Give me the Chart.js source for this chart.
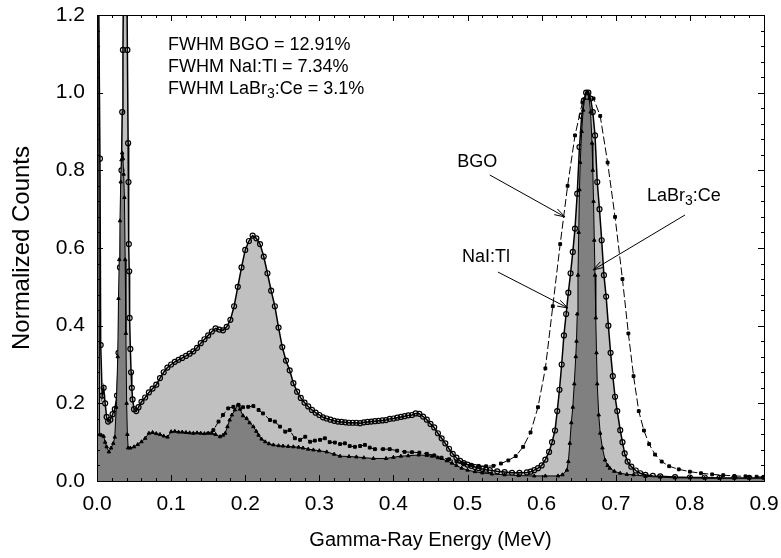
<!DOCTYPE html>
<html>
<head>
<meta charset="utf-8">
<script src="https://cdn.jsdelivr.net/npm/chart.js@4.4.1/dist/chart.umd.min.js"></script>
<style>
  body { margin: 0; background: #fff; }
  canvas { display: block; }
</style>
</head>
<body>
<canvas id="graph" width="781" height="558"></canvas>
<script>
// LaBr3:Ce spectrum (dark fill, triangles)
const labrEnergy = [0.000, 0.002, 0.0035, 0.006, 0.009, 0.011, 0.013, 0.016, 0.019, 0.022, 0.024, 0.026, 0.028, 0.029, 0.030, 0.031, 0.032, 0.033, 0.034, 0.035, 0.036, 0.037, 0.038, 0.039, 0.040, 0.041, 0.042, 0.045, 0.050, 0.055, 0.060, 0.065, 0.070, 0.075, 0.080, 0.085, 0.090, 0.095, 0.100, 0.105, 0.110, 0.115, 0.120, 0.125, 0.130, 0.135, 0.140, 0.145, 0.150, 0.155, 0.160, 0.166, 0.170, 0.173, 0.176, 0.179, 0.182, 0.186, 0.190, 0.193, 0.197, 0.202, 0.206, 0.211, 0.215, 0.218, 0.222, 0.227, 0.232, 0.238, 0.245, 0.251, 0.258, 0.265, 0.272, 0.278, 0.285, 0.292, 0.300, 0.310, 0.320, 0.328, 0.340, 0.350, 0.360, 0.373, 0.390, 0.400, 0.410, 0.420, 0.434, 0.445, 0.452, 0.460, 0.465, 0.472, 0.479, 0.485, 0.492, 0.500, 0.510, 0.520, 0.533, 0.550, 0.569, 0.590, 0.605, 0.622, 0.628, 0.634, 0.636, 0.638, 0.640, 0.642, 0.644, 0.646, 0.647, 0.648, 0.649, 0.650, 0.651, 0.652, 0.654, 0.656, 0.658, 0.660, 0.662, 0.664, 0.666, 0.668, 0.669, 0.670, 0.671, 0.672, 0.673, 0.674, 0.675, 0.677, 0.679, 0.682, 0.6855, 0.689, 0.692, 0.698, 0.706, 0.715, 0.724, 0.740, 0.760, 0.780, 0.800, 0.820, 0.840, 0.860, 0.880, 0.900];
const labrCounts = [1.40, 1.40, 0.120, 0.118, 0.115, 0.100, 0.088, 0.075, 0.085, 0.097, 0.113, 0.190, 0.320, 0.470, 0.570, 0.670, 0.770, 0.827, 0.845, 0.830, 0.790, 0.730, 0.570, 0.380, 0.200, 0.120, 0.085, 0.085, 0.088, 0.094, 0.101, 0.110, 0.123, 0.125, 0.122, 0.120, 0.116, 0.113, 0.127, 0.128, 0.126, 0.126, 0.125, 0.124, 0.123, 0.124, 0.123, 0.122, 0.123, 0.123, 0.120, 0.114, 0.118, 0.123, 0.140, 0.157, 0.170, 0.183, 0.196, 0.185, 0.168, 0.161, 0.150, 0.140, 0.128, 0.118, 0.108, 0.101, 0.096, 0.093, 0.091, 0.090, 0.089, 0.088, 0.087, 0.085, 0.082, 0.080, 0.078, 0.075, 0.069, 0.064, 0.063, 0.062, 0.060, 0.058, 0.058, 0.061, 0.064, 0.065, 0.067, 0.066, 0.064, 0.060, 0.058, 0.052, 0.046, 0.040, 0.033, 0.028, 0.024, 0.021, 0.018, 0.016, 0.014, 0.013, 0.013, 0.013, 0.016, 0.028, 0.050, 0.097, 0.150, 0.190, 0.250, 0.320, 0.360, 0.430, 0.530, 0.640, 0.750, 0.820, 0.900, 0.955, 0.985, 0.997, 1.000, 0.985, 0.950, 0.870, 0.800, 0.720, 0.620, 0.530, 0.420, 0.330, 0.250, 0.170, 0.123, 0.085, 0.054, 0.040, 0.033, 0.025, 0.020, 0.017, 0.016, 0.012, 0.010, 0.008, 0.008, 0.007, 0.007, 0.007, 0.007, 0.007];

// NaI:Tl spectrum (light fill, open circles)
const naiEnergy = [0.002, 0.004, 0.005, 0.007, 0.009, 0.011, 0.013, 0.015, 0.018, 0.021, 0.024, 0.027, 0.029, 0.031, 0.033, 0.034, 0.035, 0.037, 0.039, 0.041, 0.042, 0.0425, 0.043, 0.0435, 0.044, 0.045, 0.046, 0.047, 0.048, 0.050, 0.053, 0.056, 0.060, 0.065, 0.070, 0.075, 0.080, 0.085, 0.090, 0.095, 0.100, 0.105, 0.110, 0.115, 0.120, 0.125, 0.130, 0.135, 0.140, 0.145, 0.150, 0.155, 0.160, 0.165, 0.170, 0.175, 0.180, 0.185, 0.190, 0.195, 0.200, 0.205, 0.210, 0.215, 0.220, 0.225, 0.230, 0.235, 0.240, 0.245, 0.250, 0.255, 0.260, 0.265, 0.270, 0.275, 0.280, 0.285, 0.290, 0.295, 0.300, 0.305, 0.310, 0.315, 0.320, 0.325, 0.330, 0.335, 0.340, 0.345, 0.350, 0.355, 0.360, 0.365, 0.370, 0.375, 0.380, 0.385, 0.390, 0.395, 0.400, 0.405, 0.410, 0.415, 0.420, 0.425, 0.430, 0.435, 0.440, 0.445, 0.450, 0.455, 0.460, 0.465, 0.470, 0.475, 0.480, 0.485, 0.490, 0.495, 0.500, 0.505, 0.510, 0.515, 0.520, 0.525, 0.530, 0.540, 0.550, 0.560, 0.570, 0.580, 0.585, 0.590, 0.595, 0.600, 0.605, 0.610, 0.614, 0.618, 0.621, 0.624, 0.627, 0.630, 0.633, 0.636, 0.639, 0.642, 0.645, 0.648, 0.651, 0.654, 0.657, 0.660, 0.663, 0.666, 0.669, 0.672, 0.675, 0.678, 0.681, 0.684, 0.687, 0.690, 0.693, 0.696, 0.699, 0.702, 0.706, 0.709, 0.712, 0.716, 0.721, 0.727, 0.733, 0.740, 0.750, 0.760, 0.780, 0.800, 0.820, 0.840, 0.860, 0.880, 0.900];
const naiCounts = [1.30, 0.830, 0.350, 0.220, 0.240, 0.200, 0.165, 0.153, 0.158, 0.172, 0.185, 0.220, 0.330, 0.550, 0.800, 0.950, 1.110, 1.600, 1.600, 1.110, 0.870, 0.770, 0.610, 0.540, 0.420, 0.340, 0.280, 0.240, 0.210, 0.185, 0.180, 0.190, 0.204, 0.215, 0.228, 0.238, 0.248, 0.265, 0.280, 0.292, 0.300, 0.307, 0.312, 0.317, 0.322, 0.328, 0.334, 0.343, 0.355, 0.365, 0.375, 0.385, 0.393, 0.390, 0.388, 0.397, 0.415, 0.450, 0.500, 0.550, 0.595, 0.618, 0.632, 0.625, 0.610, 0.578, 0.535, 0.490, 0.450, 0.395, 0.345, 0.310, 0.285, 0.252, 0.230, 0.214, 0.202, 0.192, 0.183, 0.176, 0.170, 0.164, 0.161, 0.158, 0.155, 0.153, 0.152, 0.151, 0.150, 0.150, 0.150, 0.149, 0.151, 0.152, 0.153, 0.154, 0.155, 0.156, 0.157, 0.160, 0.161, 0.163, 0.165, 0.167, 0.169, 0.170, 0.174, 0.173, 0.166, 0.158, 0.147, 0.138, 0.123, 0.110, 0.097, 0.083, 0.070, 0.060, 0.052, 0.046, 0.042, 0.039, 0.036, 0.033, 0.031, 0.029, 0.028, 0.025, 0.023, 0.021, 0.021, 0.022, 0.024, 0.028, 0.033, 0.040, 0.055, 0.075, 0.100, 0.130, 0.180, 0.235, 0.300, 0.375, 0.430, 0.485, 0.535, 0.590, 0.650, 0.740, 0.860, 0.940, 0.980, 1.000, 1.000, 0.985, 0.950, 0.890, 0.770, 0.700, 0.620, 0.530, 0.475, 0.400, 0.330, 0.270, 0.217, 0.180, 0.131, 0.100, 0.071, 0.050, 0.037, 0.027, 0.020, 0.016, 0.013, 0.012, 0.010, 0.009, 0.009, 0.008, 0.008, 0.008, 0.008];

// BGO spectrum (dashed line, squares)
const bgoEnergy = [0.000, 0.010, 0.020, 0.030, 0.040, 0.050, 0.060, 0.070, 0.080, 0.090, 0.100, 0.110, 0.120, 0.130, 0.140, 0.150, 0.157, 0.164, 0.170, 0.177, 0.184, 0.191, 0.197, 0.204, 0.211, 0.218, 0.224, 0.2335, 0.240, 0.247, 0.254, 0.260, 0.267, 0.274, 0.281, 0.2875, 0.294, 0.301, 0.3075, 0.314, 0.321, 0.328, 0.3345, 0.341, 0.348, 0.355, 0.3615, 0.368, 0.375, 0.386, 0.395, 0.405, 0.415, 0.425, 0.435, 0.445, 0.455, 0.465, 0.475, 0.485, 0.495, 0.505, 0.515, 0.525, 0.535, 0.545, 0.555, 0.565, 0.575, 0.585, 0.595, 0.605, 0.615, 0.625, 0.635, 0.645, 0.655, 0.662, 0.670, 0.679, 0.689, 0.699, 0.709, 0.717, 0.724, 0.731, 0.738, 0.745, 0.753, 0.762, 0.772, 0.785, 0.800, 0.815, 0.830, 0.845, 0.860, 0.875, 0.890, 0.900];
const bgoCounts = [0, 0, 0, 0, 0, 0, 0, 0, 0, 0.100, 0.110, 0.115, 0.118, 0.120, 0.120, 0.122, 0.131, 0.153, 0.170, 0.187, 0.191, 0.196, 0.190, 0.191, 0.193, 0.183, 0.174, 0.157, 0.153, 0.140, 0.127, 0.131, 0.110, 0.106, 0.114, 0.101, 0.104, 0.106, 0.110, 0.100, 0.099, 0.095, 0.097, 0.090, 0.088, 0.090, 0.093, 0.086, 0.082, 0.082, 0.082, 0.078, 0.075, 0.074, 0.073, 0.070, 0.066, 0.060, 0.056, 0.050, 0.045, 0.041, 0.039, 0.038, 0.039, 0.045, 0.053, 0.064, 0.088, 0.125, 0.190, 0.290, 0.450, 0.610, 0.760, 0.890, 0.975, 1.000, 0.985, 0.940, 0.820, 0.680, 0.520, 0.380, 0.270, 0.180, 0.130, 0.095, 0.068, 0.050, 0.038, 0.030, 0.024, 0.020, 0.017, 0.015, 0.013, 0.012, 0.011, 0.010];

// "_" marks the next character as a subscript
const fwhmLines = ['FWHM BGO = 12.91%', 'FWHM NaI:Tl = 7.34%', 'FWHM LaBr_3:Ce = 3.1%'];

// label anchors and arrows, in data units [energy, counts]
const labels = [
  { text: 'BGO', at: [0.486, 0.822], from: [0.530, 0.788], to: [0.6315, 0.680] },
  { text: 'NaI:Tl', at: [0.4925, 0.577], from: [0.541, 0.538], to: [0.6355, 0.4455] },
  { text: 'LaBr_3:Ce', at: [0.742, 0.734], from: [0.7934, 0.685], to: [0.6693, 0.5434] },
];

const FONT = '"Liberation Sans", Arial, sans-serif';

function toPoints(xs, ys) {
  return xs.map((x, i) => ({ x: x, y: ys[i] }));
}

function drawSubText(ctx, text, x, y, size) {
  const parts = text.split('_');
  ctx.font = size + 'px ' + FONT;
  ctx.fillText(parts[0], x, y);
  x += ctx.measureText(parts[0]).width;
  for (let i = 1; i < parts.length; i++) {
    const sub = parts[i].charAt(0);
    const rest = parts[i].slice(1);
    ctx.font = Math.round(size * 0.75) + 'px ' + FONT;
    ctx.fillText(sub, x, y + size * 0.3);
    x += ctx.measureText(sub).width;
    ctx.font = size + 'px ' + FONT;
    ctx.fillText(rest, x, y);
    x += ctx.measureText(rest).width;
  }
}

function drawArrow(ctx, x1, y1, x2, y2) {
  const ang = Math.atan2(y2 - y1, x2 - x1);
  const len = 11;
  ctx.beginPath();
  ctx.moveTo(x1, y1);
  ctx.lineTo(x2, y2);
  ctx.moveTo(x2 - len * Math.cos(ang - 0.3), y2 - len * Math.sin(ang - 0.3));
  ctx.lineTo(x2, y2);
  ctx.lineTo(x2 - len * Math.cos(ang + 0.3), y2 - len * Math.sin(ang + 0.3));
  ctx.stroke();
}

const framePlugin = {
  id: 'frame',
  afterDatasetsDraw(chart) {
    const ctx = chart.ctx;
    const a = chart.chartArea;
    const xs = chart.scales.x;
    const ys = chart.scales.y;
    ctx.save();
    ctx.strokeStyle = '#000';
    ctx.lineWidth = 1;
    ctx.beginPath();
    // inward ticks on all four sides
    for (let i = 0; i <= 45; i++) {
      const px = Math.round(xs.getPixelForValue(i * 0.02)) + 0.5;
      const l = i % 5 === 0 ? 6 : 3;
      ctx.moveTo(px, a.bottom); ctx.lineTo(px, a.bottom - l);
      ctx.moveTo(px, a.top); ctx.lineTo(px, a.top + l);
    }
    for (let i = 0; i <= 30; i++) {
      const py = Math.round(ys.getPixelForValue(i * 0.04)) + 0.5;
      const l = i % 5 === 0 ? 6 : 3;
      ctx.moveTo(a.left, py); ctx.lineTo(a.left + l, py);
      ctx.moveTo(a.right, py); ctx.lineTo(a.right - l, py);
    }
    ctx.stroke();
    ctx.strokeRect(Math.round(a.left) + 0.5, Math.round(a.top) + 0.5,
      Math.round(a.right - a.left), Math.round(a.bottom - a.top));

    ctx.fillStyle = '#000';
    ctx.textBaseline = 'middle';
    ctx.textAlign = 'left';
    fwhmLines.forEach((t, i) => {
      const x = xs.getPixelForValue(0.0958);
      const y = ys.getPixelForValue(1.1234 - i * 0.0567);
      drawSubText(ctx, t, x, y, 18);
    });

    for (const lb of labels) {
      drawSubText(ctx, lb.text, xs.getPixelForValue(lb.at[0]), ys.getPixelForValue(lb.at[1]), 18);
      drawArrow(ctx,
        xs.getPixelForValue(lb.from[0]), ys.getPixelForValue(lb.from[1]),
        xs.getPixelForValue(lb.to[0]), ys.getPixelForValue(lb.to[1]));
    }
    ctx.restore();
  },
};

// keep the plot box fixed: no extra room for tick label overflow
function fixPadding(s) {
  s.paddingTop = 0;
  s.paddingBottom = 0;
  s.paddingLeft = 0;
  s.paddingRight = 0;
}

const graphRef = document.getElementById('graph');
const chart = new Chart(graphRef, {
  type: 'line',
  data: {
    datasets: [
      {
        label: 'LaBr3:Ce',
        data: toPoints(labrEnergy, labrCounts),
        borderColor: '#000',
        borderWidth: 1,
        backgroundColor: '#808080',
        fill: 'origin',
        pointStyle: 'triangle',
        pointRadius: 2,
        pointBorderWidth: 1,
        pointBackgroundColor: '#000',
        pointBorderColor: '#000',
      },
      {
        label: 'BGO',
        data: toPoints(bgoEnergy, bgoCounts),
        borderColor: '#000',
        borderWidth: 1,
        borderDash: [8, 3],
        fill: false,
        pointStyle: 'rect',
        pointRadius: 2,
        pointBorderWidth: 1,
        pointBackgroundColor: '#000',
        pointBorderColor: '#000',
      },
      {
        label: 'NaI:Tl',
        data: toPoints(naiEnergy, naiCounts),
        borderColor: '#000',
        borderWidth: 1.5,
        backgroundColor: '#c0c0c0',
        fill: 'origin',
        pointStyle: 'circle',
        pointRadius: 2.5,
        pointBorderWidth: 1.2,
        pointBackgroundColor: 'rgba(255,255,255,0)',
        pointBorderColor: '#000',
      },
    ],
  },
  options: {
    responsive: false,
    animation: false,
    layout: { padding: { left: 0, right: 17, top: 15, bottom: 0 } },
    plugins: {
      legend: { display: false },
      tooltip: { enabled: false },
    },
    scales: {
      x: {
        type: 'linear',
        min: 0,
        max: 0.9,
        grid: { display: false, drawTicks: false },
        border: { display: false },
        ticks: {
          stepSize: 0.1,
          padding: 11,
          color: '#000',
          font: { family: FONT, size: 21 },
          maxRotation: 0,
          callback: (v) => v.toFixed(1),
        },
        title: {
          display: true,
          text: 'Gamma-Ray Energy (MeV)',
          color: '#000',
          font: { family: FONT, size: 20 },
          padding: { top: 0, bottom: 6 },
        },
        afterFit: (s) => { s.height = 77; fixPadding(s); },
      },
      y: {
        min: 0,
        max: 1.2,
        grid: { display: false, drawTicks: false },
        border: { display: false },
        ticks: {
          stepSize: 0.2,
          padding: 12,
          color: '#000',
          font: { family: FONT, size: 21 },
          callback: (v) => v.toFixed(1),
        },
        title: {
          display: true,
          text: 'Normalized Counts',
          color: '#000',
          font: { family: FONT, size: 24 },
          padding: { top: 8, bottom: 0 },
        },
        afterFit: (s) => { s.width = 97; fixPadding(s); },
      },
    },
  },
  plugins: [framePlugin],
});
</script>
</body>
</html>
